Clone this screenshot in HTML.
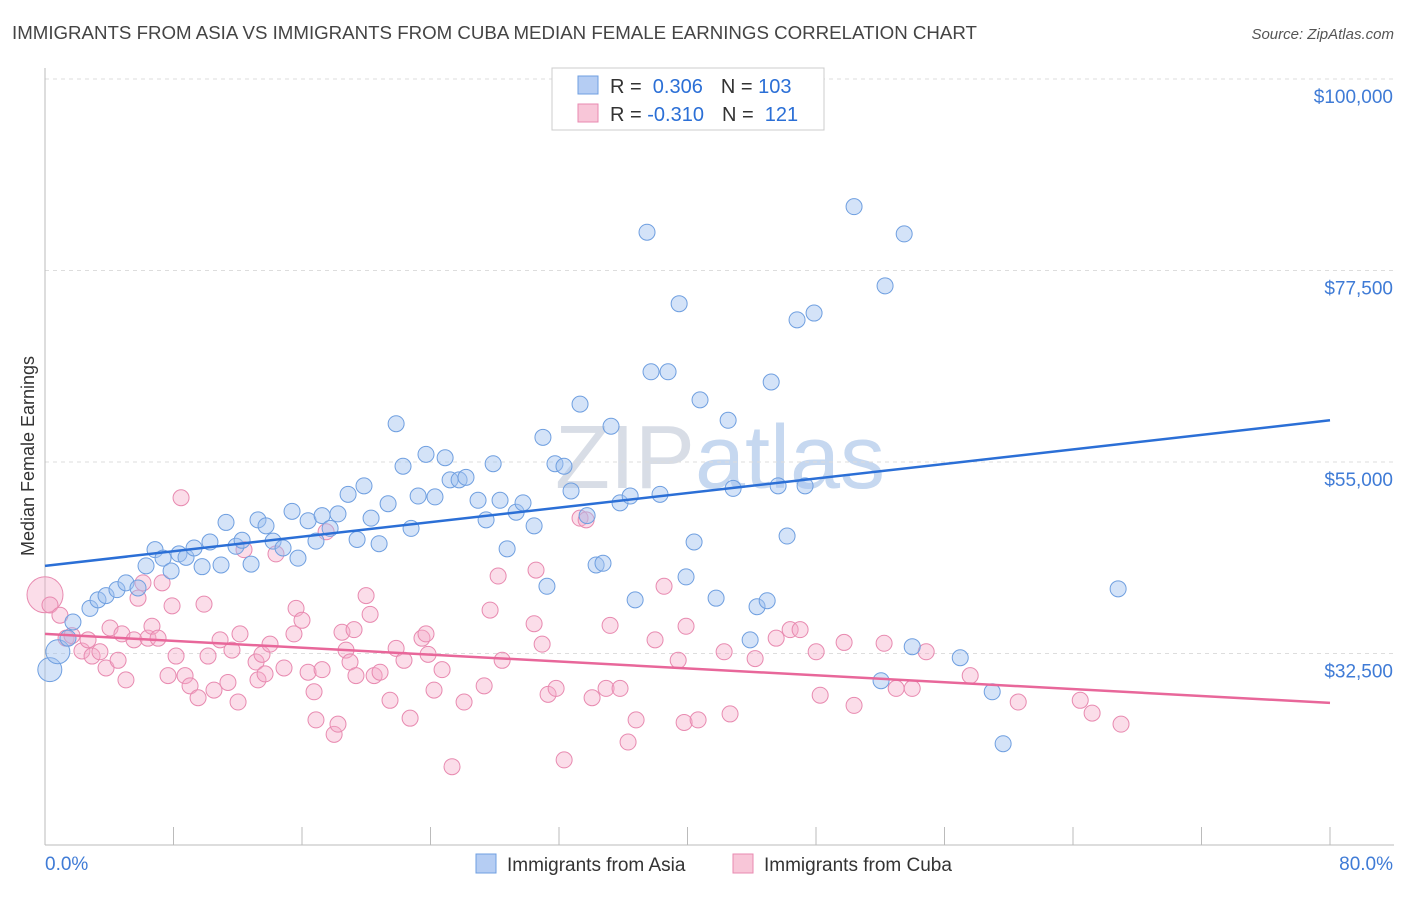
<!DOCTYPE html>
<html><head><meta charset="utf-8"><style>
body{margin:0;background:#fff;font-family:"Liberation Sans",sans-serif;}
svg text{font-family:"Liberation Sans",sans-serif;}
</style></head><body>
<svg id="chart" width="1406" height="892">
<text x="12" y="39" font-size="18.7" fill="#444">IMMIGRANTS FROM ASIA VS IMMIGRANTS FROM CUBA MEDIAN FEMALE EARNINGS CORRELATION CHART</text>
<text x="1394" y="39" font-size="15" fill="#555" font-style="italic" text-anchor="end">Source: ZipAtlas.com</text>
<text x="720" y="488" font-size="90" fill="#d8dde6" text-anchor="middle" font-family="Liberation Serif">ZIP<tspan fill="#c6d8f0" font-family="Liberation Sans">atlas</tspan></text>
<text transform="translate(34,456) rotate(-90)" font-size="18" fill="#333" text-anchor="middle">Median Female Earnings</text>
<g id="grid"></g><g id="axes"></g><g id="marks"></g>
<g>
<rect x="552" y="68" width="272" height="62" fill="#fff" stroke="#ccc"/>
<rect x="578" y="76" width="20" height="18" fill="#b5cdf3" stroke="#6f9fe0"/>
<rect x="578" y="104" width="20" height="18" fill="#f8c6d8" stroke="#e88ab0"/>
<text x="610" y="93" font-size="20" fill="#333">R = <tspan fill="#2b6fd6">&#160;0.306</tspan><tspan dx="18">N = </tspan><tspan fill="#2b6fd6">103</tspan></text>
<text x="610" y="121" font-size="20" fill="#333">R = <tspan fill="#2b6fd6">-0.310</tspan><tspan dx="18">N = </tspan><tspan fill="#2b6fd6">&#160;121</tspan></text>
</g>
<g>
<rect x="476" y="854" width="20" height="19" fill="#b5cdf3" stroke="#6f9fe0"/>
<text x="507" y="871" font-size="19" fill="#333">Immigrants from Asia</text>
<rect x="733" y="854" width="20" height="19" fill="#f8c6d8" stroke="#e88ab0"/>
<text x="764" y="871" font-size="19" fill="#333">Immigrants from Cuba</text>
</g>
</svg>
<script>
const yTicks=[32500,55000,77500,100000];
const yTickLabels=["$32,500","$55,000","$77,500","$100,000"];
const xEnds=["0.0%","80.0%"];
const asiaX=[0.3,0.8,1.43,1.74,2.8,3.3,3.8,4.48,5.04,5.79,6.29,6.85,7.35,7.85,8.34,8.78,9.28,9.78,10.27,10.96,11.27,11.89,12.27,12.83,13.26,13.76,14.2,14.82,15.38,15.75,16.38,16.87,17.25,18.24,17.75,18.87,19.43,19.86,20.3,20.8,21.36,21.86,22.29,22.79,23.23,23.72,24.28,24.91,25.22,25.78,26.21,26.96,27.46,27.9,28.33,28.77,29.33,29.76,30.45,31.0,31.25,31.75,32.31,32.75,33.31,33.75,34.31,34.74,35.24,35.8,36.43,36.74,37.48,37.73,38.29,38.79,39.48,39.91,40.41,40.78,41.78,42.53,42.84,43.9,44.33,44.96,45.21,45.64,46.2,46.82,47.32,47.88,50.37,52.05,52.3,53.49,53.99,56.98,58.97,59.65,66.81];
const asiaY=[30600,32700,34300,36200,37800,38800,39300,40000,40800,40200,42800,44700,43700,42200,44200,43800,44900,42700,45600,42900,47900,45100,45800,43000,48200,47500,45700,44900,49200,43700,48100,45700,48700,48900,47200,51200,45900,52200,48400,45400,50100,59500,54500,47200,51000,55900,50900,55500,52900,52900,53200,50500,48200,54800,50500,44800,49100,50200,47500,57900,40400,54800,54500,51600,61800,48700,42900,43100,59200,50200,51000,38800,82000,65600,51200,65600,73600,41500,45600,62300,39000,59900,51900,34100,38000,38700,64400,52200,46300,71700,52200,72500,85000,29300,75700,81800,33300,32000,28000,21900,40100];
const cubaX=[0,0.31,0.93,1.31,1.68,2.3,2.68,2.93,3.42,3.8,4.05,4.55,4.79,5.04,5.54,5.79,6.1,6.41,6.66,7.04,7.29,7.66,7.91,8.16,8.47,8.72,9.03,9.53,9.9,10.15,10.52,10.9,11.39,11.64,12.02,12.14,12.39,13.14,13.26,13.51,13.7,14.01,14.38,14.88,15.5,15.63,16.0,16.38,16.75,16.87,17.25,17.5,18.0,18.24,18.49,18.74,18.99,19.24,19.36,19.99,20.24,20.49,20.86,21.48,21.86,22.35,22.73,23.47,23.72,23.85,24.22,24.72,25.34,26.09,27.34,27.71,28.21,28.46,30.45,30.57,30.95,31.32,31.82,32.32,33.31,33.69,34.06,34.93,35.18,35.8,36.3,36.8,37.98,38.54,39.42,39.79,39.91,40.66,42.28,42.65,44.21,45.52,46.39,47.01,48.01,48.26,49.75,50.37,52.24,52.99,53.99,54.86,57.6,60.59,64.45,65.19,66.99];
const cubaY=[39400,38200,37000,34300,34600,32800,34100,32200,32700,30800,35500,31700,34800,29400,34100,39000,40800,34300,35700,34300,40800,29900,38100,32200,50800,29900,28700,27300,38300,32200,28200,34100,29100,32900,26800,34800,44700,31500,29400,32400,30100,33600,44200,30800,34800,37800,36400,30300,28000,24700,30600,46800,23000,24200,35000,32900,31500,35300,29900,39300,37100,29900,30300,27000,33100,31700,24900,34300,34800,32400,28200,30600,19200,26800,28700,37600,41600,31700,36000,42300,33600,27700,28400,20000,48400,48200,27300,28400,35800,28400,22100,24700,34100,40400,31700,24400,35700,24700,32700,25400,31900,34300,35300,35300,32700,27600,33800,26400,33700,28400,28400,32700,29900,26800,27000,25500,24200];
const asiaTrend=[42800,59900];
const cubaTrend=[34800,26700];
const NS="http://www.w3.org/2000/svg";
const X0=45,X1=1330,Y0=845,Y1=79;
function sx(v){return X0+(v/80)*(X1-X0);}
function sy(v){return Y0-(v-10000)/90000*(Y0-Y1);}
function mk(tag,a,parent){const e=document.createElementNS(NS,tag);for(const k in a)e.setAttribute(k,a[k]);parent.appendChild(e);return e;}
const grid=document.getElementById('grid'),axes=document.getElementById('axes'),marks=document.getElementById('marks');
yTicks.forEach((t,i)=>{
  const l=mk('line',{x1:X0,x2:1394,y1:sy(t),y2:sy(t),stroke:'#ddd','stroke-dasharray':'4,4'},grid);
  
  
  const tx=mk('text',{x:1393,y:sy(t)+24,'font-size':19,fill:'#3f7bd6','text-anchor':'end'},axes);
  tx.textContent=yTickLabels[i];
  
  
});
const ax=mk('line',{x1:X0,x2:1394,y1:Y0,y2:Y0,stroke:'#bbb'},axes);


const ay=mk('line',{x1:X0,x2:X0,y1:68,y2:Y0,stroke:'#bbb'},axes);


for(let i=0;i<=10;i++){
  const t=mk('line',{x1:sx(i*8),x2:sx(i*8),y1:Y0,y2:Y0-18,stroke:'#bbb'},axes);
  
  
}
const xl=mk('text',{x:45,y:870,'font-size':19,fill:'#3f7bd6'},axes);xl.textContent=xEnds[0];


const xr=mk('text',{x:1393,y:870,'font-size':19,fill:'#3f7bd6','text-anchor':'end'},axes);xr.textContent=xEnds[1];


cubaX.forEach((x,i)=>{
  const c=mk('circle',{cx:sx(x),cy:sy(cubaY[i]),r:i===0?18:8,fill:'rgba(245,170,200,0.4)',stroke:'#e88ab0','stroke-width':1},marks);
  
  
});
asiaX.forEach((x,i)=>{
  const c=mk('circle',{cx:sx(x),cy:sy(asiaY[i]),r:i<2?12:8,fill:'rgba(160,192,240,0.45)',stroke:'#6f9fe0','stroke-width':1},marks);
  
  
});
const tl1=mk('line',{x1:sx(0),x2:sx(80),y1:sy(asiaTrend[0]),y2:sy(asiaTrend[1]),stroke:'#2b6fd6','stroke-width':2.5},marks);


const tl2=mk('line',{x1:sx(0),x2:sx(80),y1:sy(cubaTrend[0]),y2:sy(cubaTrend[1]),stroke:'#e8679a','stroke-width':2.5},marks);


</script>
</body></html>
